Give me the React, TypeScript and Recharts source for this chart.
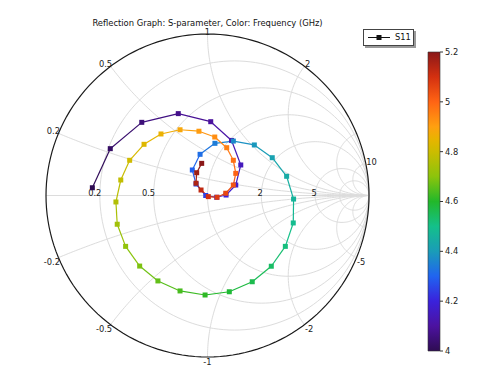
import React from 'react';
import { ScatterChart, Scatter, XAxis, YAxis, BarChart, Bar } from 'recharts';

// S11 sweep, frequency in GHz, reflection coefficient (real / imag)
const freqGHz = [
  4.0, 4.024, 4.049, 4.073, 4.098, 4.122, 4.147, 4.171, 4.196, 4.22,
  4.245, 4.269, 4.294, 4.318, 4.343, 4.367, 4.392, 4.416, 4.441, 4.465,
  4.49, 4.514, 4.539, 4.563, 4.588, 4.612, 4.637, 4.661, 4.686, 4.71,
  4.735, 4.759, 4.784, 4.808, 4.833, 4.857, 4.882, 4.906, 4.931, 4.955,
  4.98, 5.004, 5.029, 5.053, 5.078, 5.102, 5.127, 5.151, 5.176, 5.2,
];
const s11Re = [
  -0.713, -0.602, -0.407, -0.181, 0.02, 0.149, 0.206, 0.175, 0.115, 0.057,
  -0.011, -0.071, -0.094, -0.046, 0.046, 0.16, 0.29, 0.401, 0.49, 0.533,
  0.531, 0.482, 0.395, 0.277, 0.135, -0.015, -0.17, -0.307, -0.42, -0.507,
  -0.559, -0.567, -0.537, -0.482, -0.393, -0.288, -0.17, -0.053, 0.045, 0.119,
  0.16, 0.175, 0.16, 0.113, 0.059, 0.005, -0.04, -0.071, -0.067, -0.036,
];
const s11Im = [
  0.048, 0.29, 0.453, 0.507, 0.457, 0.341, 0.189, 0.065, 0.003, -0.011,
  0.0, 0.071, 0.158, 0.255, 0.323, 0.337, 0.313, 0.234, 0.119, -0.022,
  -0.17, -0.315, -0.438, -0.534, -0.596, -0.616, -0.591, -0.529, -0.437, -0.315,
  -0.178, -0.04, 0.096, 0.218, 0.317, 0.381, 0.407, 0.398, 0.362, 0.296,
  0.218, 0.137, 0.065, 0.014, -0.011, -0.007, 0.034, 0.076, 0.141, 0.199,
];

const resistanceGrid = [0.2, 0.5, 1, 2, 5, 10];
const reactanceGrid = [0.2, 0.5, 1, 2, 5, 10, -0.2, -0.5, -1, -2, -5, -10];
const resistanceLabels = ['0.2', '0.5', '2', '5'];
const reactanceLabels = ['0.2', '0.5', '1', '2', '10', '-0.2', '-0.5', '-1', '-2', '-5'];
const colorbarTicks = [4, 4.2, 4.4, 4.6, 4.8, 5, 5.2];

const colorStops: [number, string][] = [
  [4.0, '#2e0c52'], [4.1, '#4c12a0'], [4.2, '#3a22dc'], [4.3, '#2064f0'],
  [4.4, '#1a9cb8'], [4.5, '#14c08a'], [4.6, '#22b82a'], [4.7, '#8cc40c'],
  [4.8, '#ccbc00'], [4.85, '#e8b400'], [4.9, '#ffa010'], [5.0, '#ff6414'],
  [5.1, '#d43010'], [5.2, '#8a1818'],
];

const FONT = 'DejaVu Sans, sans-serif';
const GRID = '#dcdcdc';

function hex(c: string) {
  return [1, 3, 5].map((i) => parseInt(c.slice(i, i + 2), 16));
}

function freqColor(f: number) {
  if (f <= colorStops[0][0]) return colorStops[0][1];
  for (let i = 1; i < colorStops.length; i++) {
    const [f1, c1] = colorStops[i];
    const [f0, c0] = colorStops[i - 1];
    if (f <= f1) {
      const t = (f - f0) / (f1 - f0);
      const a = hex(c0);
      const b = hex(c1);
      return `rgb(${a.map((v, k) => Math.round(v + (b[k] - v) * t)).join(',')})`;
    }
  }
  return colorStops[colorStops.length - 1][1];
}

// normalised impedance r + jx  ->  reflection coefficient
function gamma(r: number, x: number) {
  const den = (r + 1) * (r + 1) + x * x;
  return { x: (r * r - 1 + x * x) / den, y: (2 * x) / den };
}

function resistanceCircle(r: number) {
  const pts = [{ x: 1, y: 0 }];
  const n = 160;
  for (let i = 1; i < n; i++) {
    const phi = -Math.PI + (2 * Math.PI * i) / n;
    pts.push(gamma(r, (r + 1) * Math.tan(phi / 2)));
  }
  pts.push({ x: 1, y: 0 });
  return pts;
}

function reactanceArc(x: number) {
  const ax = Math.abs(x);
  const a0 = Math.atan(1 / ax);
  const pts = [];
  const n = 120;
  for (let i = 0; i < n; i++) {
    const a = a0 + ((Math.PI / 2 - a0) * i) / n;
    pts.push(gamma(Math.max(0, ax * Math.tan(a) - 1), x));
  }
  pts.push({ x: 1, y: 0 });
  return pts;
}

const s11Points = freqGHz.map((f, i) => ({ f, x: s11Re[i], y: s11Im[i] }));

const labelPoints = [
  ...resistanceLabels.map((t) => ({ ...gamma(parseFloat(t), 0), text: t, kind: 'r' })),
  ...reactanceLabels.map((t) => ({ ...gamma(0, parseFloat(t)), text: t, kind: 'x' })),
];

const NoDot = () => <g />;

const SquareDot = (props: any) => {
  const { cx, cy, payload } = props;
  return <rect x={cx - 2.5} y={cy - 2.5} width={5} height={5} fill={freqColor(payload.f)} />;
};

const GridLabel = (props: any) => {
  const { cx, cy, payload } = props;
  const style = { fontFamily: FONT, fontSize: 8.3, fill: '#222' };
  if (payload.kind === 'r') {
    return <text x={cx + 1.5} y={cy + 0.5} textAnchor="end" style={style}>{payload.text}</text>;
  }
  const anchor = payload.x < -0.05 ? 'end' : payload.x > 0.05 ? 'start' : 'middle';
  const dx = anchor === 'end' ? 1.5 : anchor === 'start' ? 0.5 : 0;
  const upper = payload.y > 0;
  return (
    <text
      x={cx + dx}
      y={upper ? cy + 1 : cy + 7.5}
      textAnchor={anchor}
      style={style}
    >
      {payload.text}
    </text>
  );
};

const colorbarData = [{ name: 'freq', range: [4, 5.2] }];

export default function App() {
  const segments = s11Points.slice(0, -1).map((p, i) => [p, s11Points[i + 1]]);
  return (
    <div style={{ position: 'relative', width: 479, height: 366, marginLeft: -8, marginTop: -8, background: '#fff' }}>
      <div
        style={{
          position: 'absolute', left: 0, width: 415, top: 18, textAlign: 'center',
          fontFamily: FONT, fontSize: 8.4, lineHeight: '10px', color: '#111',
        }}
      >
        Reflection Graph: S-parameter, Color: Frequency (GHz)
      </div>
      <div style={{ position: 'absolute', left: 0, top: 0 }}>
        <ScatterChart width={479} height={366} margin={{ left: 46, right: 110, top: 34, bottom: 9 }}>
          <XAxis type="number" dataKey="x" domain={[-1, 1]} hide />
          <YAxis type="number" dataKey="y" domain={[-1, 1]} hide />
          {resistanceGrid.map((r) => (
            <Scatter key={`r${r}`} data={resistanceCircle(r)} line={{ stroke: GRID, strokeWidth: 1 }}
              fill="none" shape={NoDot} isAnimationActive={false} legendType="none" />
          ))}
          {reactanceGrid.map((x) => (
            <Scatter key={`x${x}`} data={reactanceArc(x)} line={{ stroke: GRID, strokeWidth: 1 }}
              fill="none" shape={NoDot} isAnimationActive={false} legendType="none" />
          ))}
          <Scatter data={[{ x: -1, y: 0 }, { x: 1, y: 0 }]} line={{ stroke: GRID, strokeWidth: 1 }}
            fill="none" shape={NoDot} isAnimationActive={false} legendType="none" />
          <Scatter data={resistanceCircle(0)} line={{ stroke: '#1a1a1a', strokeWidth: 1.2 }}
            fill="none" shape={NoDot} isAnimationActive={false} legendType="none" />
          <Scatter data={labelPoints} shape={GridLabel} isAnimationActive={false} legendType="none" />
          {segments.map((seg, i) => (
            <Scatter key={`s${i}`} data={seg}
              line={{ stroke: freqColor((seg[0].f + seg[1].f) / 2), strokeWidth: 1.2 }}
              fill="none" shape={NoDot} isAnimationActive={false} legendType="none" />
          ))}
          <Scatter name="S11" data={s11Points} shape={SquareDot} isAnimationActive={false} />
        </ScatterChart>
      </div>
      <div
        style={{
          position: 'absolute', left: 363, top: 29, width: 49, height: 15,
          border: '1px solid #444', background: '#fff', boxShadow: '2px 2px 0 #9a9a9a',
          fontFamily: FONT, fontSize: 8.3, color: '#111',
        }}
      >
        <svg width={28} height={15} style={{ position: 'absolute', left: 2, top: 0 }}>
          <line x1={2} y1={7.5} x2={24} y2={7.5} stroke="#111" strokeWidth={1} />
          <rect x={10.5} y={5} width={5} height={5} fill="#111" />
        </svg>
        <span style={{ position: 'absolute', left: 31, top: 2 }}>S11</span>
      </div>
      <div style={{ position: 'absolute', left: 400, top: 0 }}>
        <BarChart width={79} height={366} data={colorbarData} barCategoryGap={0}
          margin={{ left: 28, right: 9, top: 52, bottom: 15 }}>
          <defs>
            <linearGradient id="cbGrad" x1="0" y1="0" x2="0" y2="1">
              {colorStops.slice().reverse().map(([f, c]) => (
                <stop key={f} offset={`${((5.2 - f) / 1.2) * 100}%`} stopColor={c} />
              ))}
            </linearGradient>
          </defs>
          <XAxis dataKey="name" type="category" hide />
          <YAxis type="number" orientation="right" domain={[4, 5.2]} ticks={colorbarTicks}
            width={30} axisLine={false} tickSize={3} tickMargin={2}
            tickLine={{ stroke: '#333' }}
            tick={{ fontFamily: FONT, fontSize: 8.3, fill: '#222', textAnchor: 'start' }} />
          <Bar dataKey="range" fill="url(#cbGrad)" stroke="#333" strokeWidth={0.6} isAnimationActive={false} />
        </BarChart>
      </div>
    </div>
  );
}
